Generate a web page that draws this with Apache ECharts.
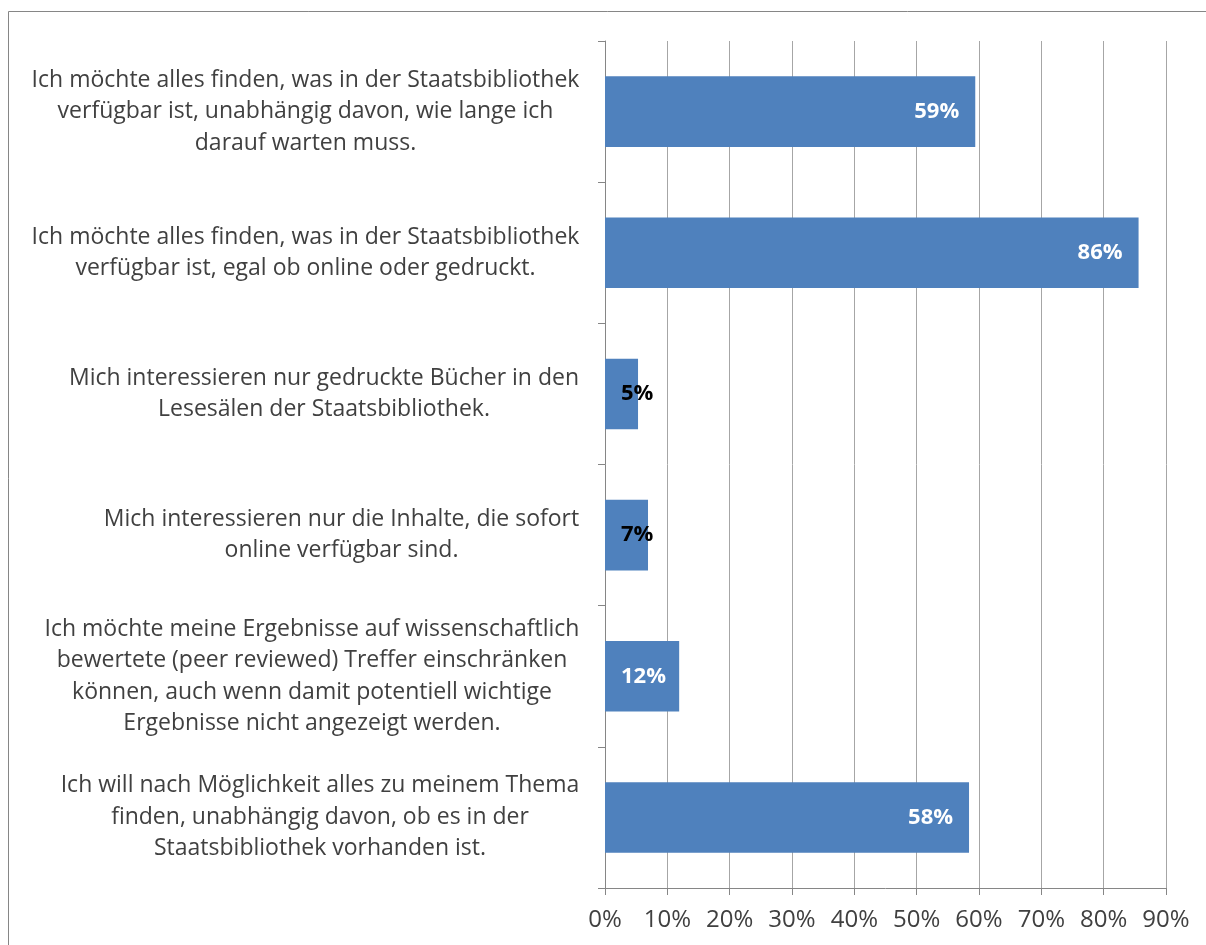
<!DOCTYPE html>
<html>
<head>
<meta charset="utf-8">
<script src="https://cdn.jsdelivr.net/npm/echarts@6/dist/echarts.min.js"></script>
<style>
  html, body { margin: 0; padding: 0; background: #fff; }
  #chart { width: 1206px; height: 945px; }
</style>
</head>
<body>
<div id="chart"></div>
<script>
// antwort-kategorien (von oben nach unten)
var categories = [
    'Ich möchte alles finden, was in der Staatsbibliothek\nverfügbar ist, unabhängig davon, wie lange ich\ndarauf warten muss.',
    'Ich möchte alles finden, was in der Staatsbibliothek\nverfügbar ist, egal ob online oder gedruckt.',
    'Mich interessieren nur gedruckte Bücher in den\nLesesälen der Staatsbibliothek.',
    'Mich interessieren nur die Inhalte, die sofort\nonline verfügbar sind.',
    'Ich möchte meine Ergebnisse auf wissenschaftlich\nbewertete (peer reviewed) Treffer einschränken\nkönnen, auch wenn damit potentiell wichtige\nErgebnisse nicht angezeigt werden.',
    'Ich will nach Möglichkeit alles zu meinem Thema\nfinden, unabhängig davon, ob es in der\nStaatsbibliothek vorhanden ist.'
];
// anteile in prozent (beschriftung gerundet)
var values = [59.4, 85.6, 5.3, 6.9, 11.9, 58.4];
// x-achse
var axisMin = 0;
var axisMax = 90;
var axisStep = 10;

var labelFont = '"Open Sans", "DejaVu Sans", sans-serif';
var labelSize = 23;

var chart = echarts.init(document.getElementById('chart'));

// breite der längsten zeile je kategorie, damit die zeilen zentriert im block stehen
var ctx = document.createElement('canvas').getContext('2d');
ctx.font = labelSize + 'px ' + labelFont;
var rich = {};
categories.forEach(function (c, i) {
    var w = 0;
    c.split('\n').forEach(function (line) {
        w = Math.max(w, ctx.measureText(line).width);
    });
    rich['l' + i] = {
        width: Math.ceil(w) + 1,
        align: 'center',
        fontSize: labelSize,
        fontFamily: labelFont,
        color: '#404040',
        lineHeight: 31.5
    };
});

function barLabel(v) {
    if (v < 10) {
        return { position: 'insideLeft', distance: 16, color: '#000' };
    } else if (v < 20) {
        return { position: 'insideLeft', distance: 16, color: '#fff' };
    }
    return { position: 'insideRight', distance: 16, color: '#fff' };
}

var seriesData = values.map(function (v) {
    return { value: v, label: barLabel(v) };
});

var option = {
    backgroundColor: '#fff',
    animation: false,
    graphic: [{
        type: 'rect',
        shape: { x: 8.5, y: 11.5, width: 1400, height: 1200 },
        style: { fill: 'none', stroke: '#868686', lineWidth: 1 },
        silent: true
    }],
    grid: {
        left: 605,
        top: 41,
        right: 40,
        bottom: 57,
        containLabel: false
    },
    xAxis: {
        type: 'value',
        min: axisMin,
        max: axisMax,
        interval: axisStep,
        axisLine: { show: true, lineStyle: { color: '#868686', width: 1 } },
        axisTick: { show: true, length: 7, lineStyle: { color: '#868686' } },
        splitLine: { show: true, lineStyle: { color: '#a6a6a6', width: 1 } },
        axisLabel: {
            formatter: '{value}%',
            color: '#404040',
            fontSize: 24,
            fontFamily: labelFont,
            margin: 20
        }
    },
    yAxis: {
        type: 'category',
        inverse: true,
        data: categories,
        axisLine: { show: true, lineStyle: { color: '#868686', width: 1 } },
        axisTick: { show: true, length: 7, lineStyle: { color: '#868686' } },
        axisLabel: {
            margin: 25,
            align: 'right',
            formatter: function (value, idx) {
                return value.split('\n').map(function (line) {
                    return '{l' + idx + '|' + line + '}';
                }).join('\n');
            },
            rich: rich
        }
    },
    series: [{
        type: 'bar',
        data: seriesData,
        barCategoryGap: '50%',
        itemStyle: { color: '#4f81bd' },
        label: {
            show: true,
            formatter: function (p) {
                return Math.round(p.value) + '%';
            },
            fontSize: 22,
            fontWeight: 'bold',
            fontFamily: labelFont
        }
    }]
};

chart.setOption(option);
</script>
</body>
</html>
